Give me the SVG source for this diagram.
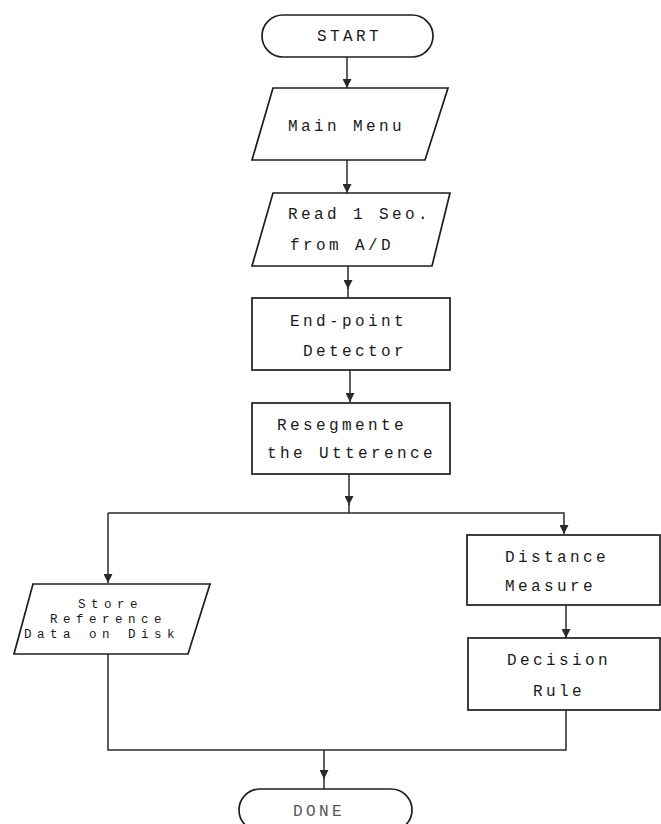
<svg xmlns="http://www.w3.org/2000/svg" width="661" height="824" viewBox="0 0 661 824">
<style>
.shape{fill:#fff;stroke:#1e1e1e;stroke-width:1.7}
.conn{fill:none;stroke:#2a2a2a;stroke-width:1.5}
.t{font-family:"Liberation Mono","DejaVu Sans Mono",monospace;font-size:16px;letter-spacing:3.4px;fill:#1a1a1a}
.ts{font-family:"Liberation Mono","DejaVu Sans Mono",monospace;font-size:12.5px;letter-spacing:5.5px;fill:#1a1a1a}
.tg{font-family:"Liberation Mono","DejaVu Sans Mono",monospace;font-size:16px;letter-spacing:3.4px;fill:#555}
</style>
<defs>
<marker id="ah" viewBox="0 0 10 10" refX="10" refY="5" markerWidth="11" markerHeight="9" markerUnits="userSpaceOnUse" orient="auto">
<path d="M0,0 L10,5 L0,10 z" fill="#2a2a2a"/>
</marker>
</defs>
<rect width="661" height="824" fill="#fff"/>
<g id="connectors">
<path class="conn" d="M347,57 V88" marker-end="url(#ah)"/>
<path class="conn" d="M347,160 V193" marker-end="url(#ah)"/>
<path class="conn" d="M348,266 V289" marker-end="url(#ah)"/>
<path class="conn" d="M348,288 V298"/>
<path class="conn" d="M350,370 V402" marker-end="url(#ah)"/>
<path class="conn" d="M349,474 V505" marker-end="url(#ah)"/>
<path class="conn" d="M349,504 V513"/>
<path class="conn" d="M108,513 H564 V534" marker-end="url(#ah)"/>
<path class="conn" d="M108,513 V583" marker-end="url(#ah)"/>
<path class="conn" d="M566,605 V638" marker-end="url(#ah)"/>
<path class="conn" d="M566,710 V750 H108 V654"/>
<path class="conn" d="M324,750 V779" marker-end="url(#ah)"/>
<path class="conn" d="M324,778 V789"/>
</g>
<g id="start">
<rect class="shape" x="262" y="15" width="171" height="42" rx="21"/>
<text class="t" x="317" y="41">START</text>
</g>
<g id="main-menu">
<polygon class="shape" points="273,88 448,88 425,160 252,160"/>
<text class="t" x="288" y="131">Main Menu</text>
</g>
<g id="read">
<polygon class="shape" points="273,193 450,193 432,266 252,266"/>
<text class="t" x="288" y="219">Read 1 Seo.</text>
<text class="t" x="290" y="250">from A/D</text>
</g>
<g id="endpoint">
<rect class="shape" x="252" y="298" width="198" height="72"/>
<text class="t" x="290" y="326">End-point</text>
<text class="t" x="303" y="356">Detector</text>
</g>
<g id="resegment">
<rect class="shape" x="252" y="403" width="198" height="71"/>
<text class="t" x="277" y="430">Resegmente</text>
<text class="t" x="267" y="458">the Utterence</text>
</g>
<g id="store">
<polygon class="shape" points="33,584 210,584 188,654 14,654"/>
<text class="ts" x="78" y="608">Store</text>
<text class="ts" x="50" y="623">Reference</text>
<text class="ts" x="24" y="638">Data on Disk</text>
</g>
<g id="distance">
<rect class="shape" x="467" y="535" width="193" height="70"/>
<text class="t" x="505" y="562">Distance</text>
<text class="t" x="505" y="591">Measure</text>
</g>
<g id="decision">
<rect class="shape" x="468" y="638" width="192" height="72"/>
<text class="t" x="507" y="665">Decision</text>
<text class="t" x="533" y="696">Rule</text>
</g>
<g id="done">
<rect class="shape" x="239" y="789" width="173" height="42" rx="21"/>
<text class="tg" x="293" y="816">DONE</text>
</g>
</svg>
